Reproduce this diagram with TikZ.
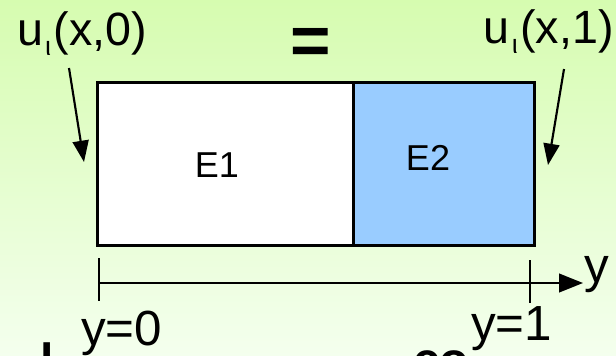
\documentclass[tikz,border=0pt]{standalone}
\usepackage{fontspec}
\setmainfont{Liberation Sans}
\usetikzlibrary{arrows.meta}
\definecolor{bgtop}{RGB}{214,252,176}
\definecolor{bgbot}{RGB}{244,255,238}
\definecolor{eblue}{RGB}{153,204,255}
\newcommand{\subiota}{\kern1.5pt\raisebox{-7.5pt}{\fontsize{20}{20}\selectfont ι}\kern2pt}
\begin{document}
\begin{tikzpicture}[x=0.75pt,y=-0.75pt,
  region/.style={draw=black, line width=2.25pt, inner sep=0pt, anchor=north west, minimum height=122.6pt},
  bigtext/.style={inner sep=0pt, font=\fontsize{35}{38}\selectfont},
  axtext/.style={inner sep=0pt, font=\fontsize{37}{40}\selectfont},
  etext/.style={inner sep=0pt, anchor=base, font=\fontsize{27}{30}\selectfont},
  pointer/.style={line width=1.6pt, -{Triangle[length=16pt,width=12pt]}},
  axisline/.style={line width=1.6pt, -{Triangle[length=18pt,width=14pt]}},
  tick/.style={line width=1.6pt},
  cuttext/.style={inner sep=0pt, anchor=base west, font=\fontsize{36}{40}\selectfont\bfseries}]
\path[use as bounding box, top color=bgtop, bottom color=bgbot] (0,0) rectangle (616,355);
% regions
\node[region, fill=white, minimum width=192pt] (e1) at (95.5,80.5) {};
\node[region, fill=eblue, minimum width=136.1pt] (e2) at (351.5,80.5) {};
\node[etext] (e1l) at (217,177) {E1};
\node[etext] (e2l) at (428,170) {E2};
% top labels
\node[bigtext, anchor=base west] (u0) at (17,45) {u\subiota(x,0)};
\node[bigtext, anchor=base east] (u1) at (614,43) {u\subiota(x,1)};
\node[inner sep=0pt, anchor=base, font=\fontsize{52}{56}\selectfont\bfseries] (eq) at (311,64) {=};
% pointers
\coordinate (p0s) at (69,68);
\coordinate (p0e) at (84,162);
\coordinate (p1s) at (564,69);
\coordinate (p1e) at (548,165);
\draw[pointer] (p0s) -- (p0e);
\draw[pointer] (p1s) -- (p1e);
% axis
\coordinate (ax0) at (99,283);
\coordinate (ax1) at (583,283);
\coordinate (t0a) at (99,258);
\coordinate (t0b) at (99,301);
\coordinate (t1a) at (530,260);
\coordinate (t1b) at (530,303);
\draw[axisline] (ax0) -- (ax1);
\draw[tick] (t0a) -- (t0b);
\draw[tick] (t1a) -- (t1b);
\node[axtext, anchor=base west] (ylab) at (584,282) {y};
\node[axtext, anchor=base west] (y0) at (81,345) {y=0};
\node[axtext, anchor=base west] (y1) at (471,340) {y=1};
% text cut off at the lower edge
\begin{scope}
\clip (0,0) rectangle (616,355);
\node[cuttext] (cutl) at (40,377) {l};
\node[cuttext] (cutco) at (413,376) {co};
\end{scope}
\end{tikzpicture}
\end{document}
